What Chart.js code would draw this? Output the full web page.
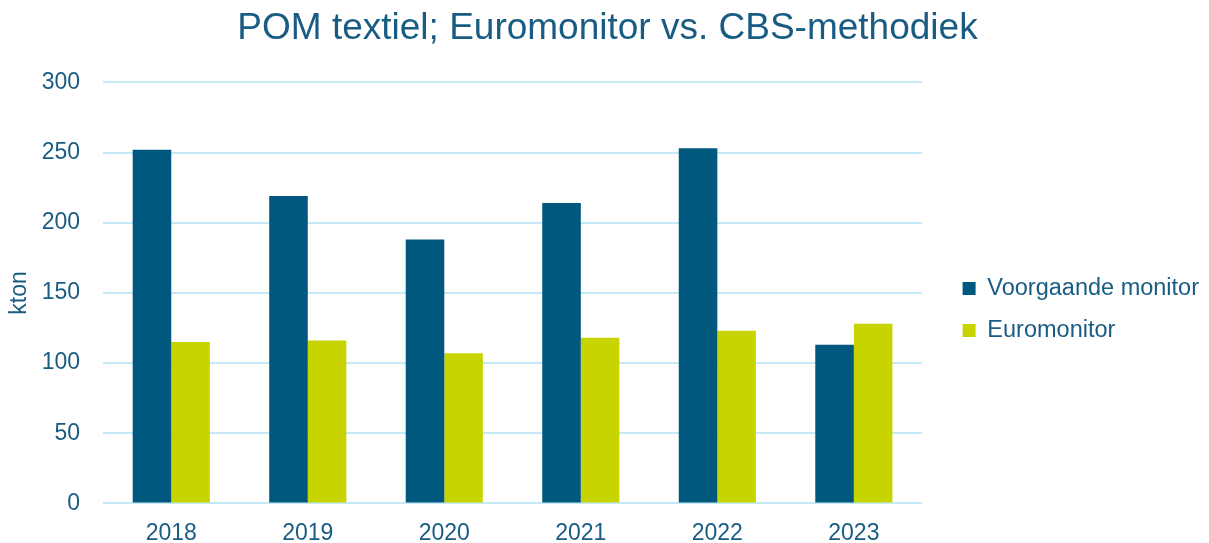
<!DOCTYPE html>
<html>
<head>
<meta charset="utf-8">
<script src="https://cdn.jsdelivr.net/npm/chart.js@4"></script>
<style>
  html, body { margin: 0; padding: 0; background: #fff; }
  #wrap { width: 1209px; height: 543px; }
</style>
</head>
<body>
<div id="wrap"><canvas id="pomChart"></canvas></div>
<script>
const years = ['2018', '2019', '2020', '2021', '2022', '2023'];
const voorgaande = [252, 219, 188, 214, 253, 113];
const euromonitor = [115, 116, 107, 118, 123, 128];
const yTicks = [0, 50, 100, 150, 200, 250, 300];

const textColor = '#195c83';
const gridColor = '#c4e9f7';

Chart.defaults.font.family = '"Liberation Sans", Arial, sans-serif';
Chart.defaults.color = textColor;

var ctx = document.getElementById('pomChart').getContext('2d');
var pomChart = new Chart(ctx, {
    type: 'bar',
    data: {
        labels: years,
        datasets: [{
            label: 'Voorgaande monitor',
            data: voorgaande,
            backgroundColor: '#00587e',
            categoryPercentage: 0.565,
            barPercentage: 1.0
        },
        {
            label: 'Euromonitor',
            data: euromonitor,
            backgroundColor: '#c8d400',
            categoryPercentage: 0.565,
            barPercentage: 1.0
        }]
    },
    options: {
        responsive: true,
        maintainAspectRatio: false,
        animation: false,
        layout: {
            padding: { left: 6, right: 0, top: 0, bottom: -20 }
        },
        plugins: {
            title: {
                display: true,
                text: 'POM textiel; Euromonitor vs. CBS-methodiek',
                color: textColor,
                font: { size: 37, weight: 'normal' },
                padding: { top: 7, bottom: 31 }
            },
            legend: {
                position: 'right',
                align: 'center',
                maxWidth: 320,
                title: {
                    display: true,
                    text: '',
                    font: { size: 10 },
                    padding: { top: 0, bottom: 44 }
                },
                labels: {
                    boxWidth: 13,
                    boxHeight: 13,
                    padding: 18.5,
                    color: textColor,
                    font: { size: 23.5 }
                }
            },
            tooltip: { enabled: false }
        },
        scales: {
            x: {
                grid: { display: false, drawTicks: false },
                border: { display: false },
                ticks: { padding: 16, font: { size: 23 }, color: textColor }
            },
            y: {
                min: 0,
                max: 300,
                afterBuildTicks: function (scale) {
                    scale.ticks = yTicks.map(v => ({ value: v }));
                },
                afterFit: function (scale) { scale.width = 97; },
                grid: { color: gridColor, lineWidth: 2, drawTicks: false },
                border: { display: false },
                ticks: { padding: 23, font: { size: 23 }, color: textColor },
                title: {
                    display: true,
                    text: 'kton',
                    color: textColor,
                    font: { size: 23 },
                    padding: { top: 0, bottom: 8 }
                }
            },
            gap: {
                position: 'right',
                display: true,
                grid: { display: false },
                border: { display: false },
                ticks: { display: false },
                afterFit: function (scale) { scale.width = 22; }
            }
        }
    }
});
</script>
</body>
</html>
